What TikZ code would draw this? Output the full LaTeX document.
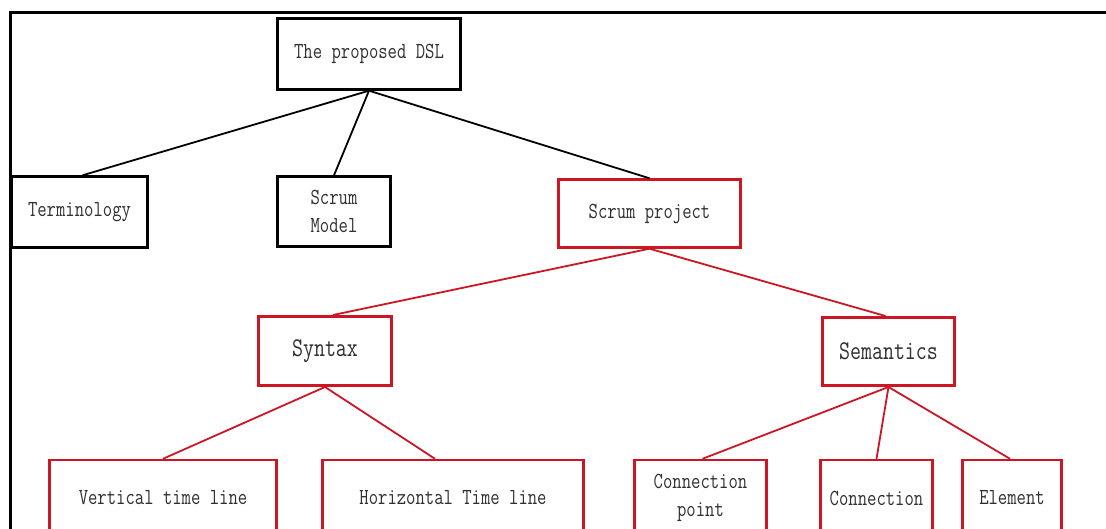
\documentclass[tikz,border=0pt]{standalone}
\usepackage{fontspec}
\newfontfamily\boxfont[FakeStretch=0.79]{Latin Modern Mono}
\definecolor{boxred}{RGB}{204,22,36}
\definecolor{ink}{RGB}{48,48,48}
\begin{document}
\begin{tikzpicture}[x=1pt,y=-1pt,
  box/.style={draw=black,line width=2.4pt,fill=white,inner sep=0pt,
    text=ink,align=center,font=\boxfont\fontsize{23}{28}\selectfont},
  redbox/.style={box,draw=boxred},
  bigtext/.style={font=\boxfont\fontsize{27}{30}\selectfont,line width=3pt},
  blackedge/.style={draw=black,line width=1.8pt},
  rededge/.style={draw=boxred,line width=1.8pt}]
\useasboundingbox (0,0) rectangle (1106,529);
% page frame (top and left rules)
\draw[line width=3pt] (1106,13) -- (10,13) -- (10,529);

% root and first level
\node[box,minimum width=183pt,minimum height=71pt] (dsl) at (369,54) {The proposed DSL};
\node[box,minimum width=136pt,minimum height=71pt] (term) at (79.5,212) {Terminology};
\node[box,minimum width=113pt,minimum height=70pt] (model) at (334,211.5) {Scrum\\Model};
\node[redbox,minimum width=182pt,minimum height=68pt] (proj) at (649.5,213.5) {Scrum project};

% second level
\node[redbox,bigtext,minimum width=133pt,minimum height=69pt] (syn) at (325,351) {Syntax};
\node[redbox,bigtext,minimum width=132pt,minimum height=68pt] (sem) at (888.5,351.5) {Semantics};

% leaves
\node[redbox,minimum width=227pt,minimum height=76pt] (vtl) at (163,498) {Vertical time line};
\node[redbox,minimum width=261pt,minimum height=76pt] (htl) at (453,498) {Horizontal Time line};
\node[redbox,minimum width=132pt,minimum height=76pt] (cp) at (700.5,498) {Connection\\point};
\node[redbox,minimum width=112pt,minimum height=76pt] (con) at (876.5,498) {Connection};
\node[redbox,minimum width=99pt,minimum height=76pt] (el) at (1012,498) {Element};

% connectors
\draw[blackedge] (dsl.south) -- ([xshift=3pt]term.north);
\draw[blackedge] (dsl.south) -- (model.north);
\draw[blackedge] (dsl.south) -- (proj.north);
\draw[rededge] (proj.south) -- ([xshift=8pt]syn.north);
\draw[rededge] (proj.south) -- ([xshift=-3pt]sem.north);
\draw[rededge] (syn.south) -- (vtl.north);
\draw[rededge] (syn.south) -- ([xshift=-18pt]htl.north);
\draw[rededge] (sem.south) -- ([xshift=2pt]cp.north);
\draw[rededge] (sem.south) -- (con.north);
\draw[rededge] (sem.south) -- ([xshift=-2pt]el.north);
\end{tikzpicture}
\end{document}
